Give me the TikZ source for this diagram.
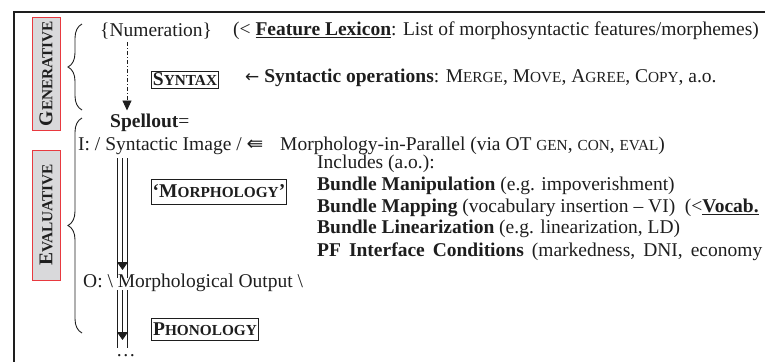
\documentclass[tikz,border=0pt]{standalone}
\usepackage{fontspec}
\setmainfont{Liberation Serif}
\newfontfamily\djv{DejaVu Sans}
\usetikzlibrary{arrows.meta,decorations.pathreplacing}
\newcommand\fsc[2]{#1{\fontsize{15.3}{15.3}\selectfont #2}}
\newcommand\allsc[1]{{\fontsize{15.3}{15.3}\selectfont #1}}
\definecolor{ink}{HTML}{1E1E1E}
\definecolor{lblfill}{HTML}{D9D9DB}
\definecolor{lblred}{HTML}{E8393F}
\begin{document}
\begin{tikzpicture}[x=1pt,y=-1pt,
  every node/.style={text=ink},
  txt/.style={anchor=west,inner sep=0pt,font=\fontsize{19.5}{22}\selectfont},
  modbox/.style={draw=ink,line width=0.9pt,inner xsep=1.5pt,font=\fontsize{19.5}{22}\selectfont\bfseries},
  sidelbl/.style={rotate=90,draw=lblred,fill=lblfill,line width=1pt,inner sep=0pt,
     minimum height=28pt,font=\fontsize{19.5}{22}\selectfont\bfseries},
  curly/.style={draw=ink,line width=0.9pt,decorate,decoration={brace,amplitude=14pt}},
  tri/.style={draw=ink,line width=0.8pt},
  tip/.style={-{Triangle[width=11pt,length=8pt]}}
]
\useasboundingbox (0,0) rectangle (765,362);
% frame
\draw[ink,line width=1.3pt] (765,12) -- (14,12) -- (14,362);
% side labels
\node[sidelbl,minimum width=113pt] (gen) at (46,73.5) {\fsc{G}{ENERATIVE}};
\node[sidelbl,minimum width=130pt] (eva) at (46,215) {\fsc{E}{VALUATIVE}};
% braces
\coordinate (gb1) at (82,110); \coordinate (gb2) at (82,24);
\coordinate (eb1) at (82,333); \coordinate (eb2) at (82,118);
\draw[curly] (gb1) -- (gb2);
\draw[curly] (eb1) -- (eb2);
% texts
\node[txt] (num) at (100,31) {\{Numeration\}};
\node[txt] (lex) at (233,31) {(<\ \underline{\textbf{Feature Lexicon}}: List of morphosyntactic features/morphemes)};
\node[modbox,minimum height=17pt,inner ysep=0pt] (syn) at (185,79.5) {\fsc{S}{YNTAX}};
\node[txt] (ops) at (245,78) {{\djv\fontsize{17}{17}\selectfont ←} \textbf{Syntactic operations}: \fsc{M}{ERGE}, \fsc{M}{OVE}, \fsc{A}{GREE}, \fsc{C}{OPY}, a.o.};
\node[txt] (spell) at (110,123) {\textbf{Spellout}=};
\node[txt] (img) at (78,146) {I: / Syntactic Image / {\djv\fontsize{20}{20}\selectfont ⇚}};
\node[txt] (mip) at (280,146) {Morphology-in-Parallel (via OT \allsc{GEN}, \allsc{CON}, \allsc{EVAL})};
\node[modbox,minimum height=25pt] (mor) at (219,191.5) {‘\fsc{M}{ORPHOLOGY}’};
\node[txt] (inc) at (317,164) {Includes (a.o.):};
\node[txt] (bm1) at (317,186) {\textbf{Bundle Manipulation} (e.g. impoverishment)};
\node[txt] (bm2) at (317,208) {\textbf{Bundle Mapping} (vocabulary insertion – VI)\ \ (<\underline{\textbf{Vocab.}}};
\node[txt] (bl) at (317,229) {\textbf{Bundle Linearization} (e.g. linearization, LD)};
\node[txt] (pf) at (317,252) {\spaceskip=8pt\textbf{PF Interface Conditions} (markedness, DNI, economy};
\node[txt] (out) at (83,283) {O: \textbackslash\ Morphological Output \textbackslash};
\node[modbox,minimum height=22pt,inner ysep=0pt] (pho) at (205,329) {\fsc{P}{HONOLOGY}};
\node[txt] (dots) at (116,356) {…};
% connectors
\coordinate (n1) at (127,42); \coordinate (n2) at (127,110.5);
\draw[ink,line width=0.9pt,dash pattern=on 4pt off 2pt on 1pt off 2pt,-{Triangle[width=9pt,length=10pt]}] (n1) -- (n2);
\coordinate (a1) at (122.5,158); \coordinate (a2) at (122.5,270);
\draw[tri,tip] (a1) -- (a2);
\draw[tri] ([xshift=-5pt]a1) -- ([xshift=-5pt,yshift=-8pt]a2);
\draw[tri] ([xshift=5pt]a1) -- ([xshift=5pt,yshift=-8pt]a2);
\coordinate (b1) at (122.5,290); \coordinate (b2) at (122.5,340);
\draw[tri,tip] (b1) -- (b2);
\draw[tri] ([xshift=-5pt]b1) -- ([xshift=-5pt,yshift=-8pt]b2);
\draw[tri] ([xshift=5pt]b1) -- ([xshift=5pt,yshift=-8pt]b2);
\end{tikzpicture}
\end{document}
